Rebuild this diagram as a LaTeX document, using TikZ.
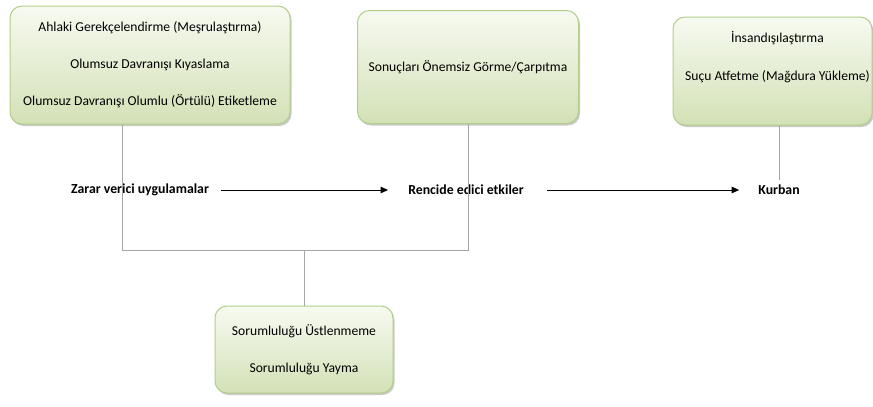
\documentclass[tikz,border=0pt]{standalone}
\usepackage{fontspec}
\setmainfont{Carlito}
\usetikzlibrary{positioning}
\usetikzlibrary{shadows}
\usetikzlibrary{arrows.meta}
\definecolor{boxtop}{HTML}{F7FAF1}
\definecolor{boxbottom}{HTML}{D3E1B6}
\definecolor{boxedge}{HTML}{B3CE88}
\definecolor{linegray}{HTML}{A6A6A6}
\tikzset{
	greenbox/.style={draw=boxedge, line width=1pt, rounded corners=12pt, top color=boxtop, bottom color=boxbottom, align=center, font=\fontsize{13.6}{37}\selectfont, drop shadow={shadow xshift=1.5pt, shadow yshift=-2pt, opacity=.35, fill=black!60}},
	boxtext/.style={align=center, font=\fontsize{13.6}{38}\selectfont},
	flowlabel/.style={font=\bfseries\fontsize{13.8}{16}\selectfont, inner sep=2pt},
	connector/.style={draw=linegray, line width=1pt},
	flowarrow/.style={draw=black, line width=0.9pt, -{Triangle[length=7.5pt, width=6.5pt]}}
}
\begin{document}
\begin{tikzpicture}[x=1pt, y=-1pt]
	\useasboundingbox (0,0) rectangle (873,407);
	% boxes
	\node (ahlaki) [greenbox, minimum width=280pt, minimum height=118pt] at (150,65) {Ahlaki Gerekçelendirme (Meşrulaştırma)\\Olumsuz Davranışı Kıyaslama\\Olumsuz Davranışı Olumlu (Örtülü) Etiketleme};
	\node (sonuc) [greenbox, minimum width=221pt, minimum height=113pt] at (468,67) {Sonuçları Önemsiz Görme/Çarpıtma};
	\node (insan) [greenbox, minimum width=199pt, minimum height=108pt] at (772.5,71) {};
	\node (insantext) [boxtext] at ([xshift=5pt, yshift=14pt]insan.center) {İnsandışılaştırma\\Suçu Atfetme (Mağdura Yükleme)};
	\node (sorum) [greenbox, minimum width=178pt, minimum height=87pt] at (304,349.5) {Sorumluluğu Üstlenmeme\\Sorumluluğu Yayma};
	% middle row
	\node (zarar) [flowlabel] at (140,190) {Zarar verici uygulamalar};
	\node (rencide) [flowlabel] at (466,190) {Rencide edici etkiler};
	\node (kurban) [flowlabel] at (779,190) {Kurban};
	\coordinate (leftfoot) at (122,250);
	\coordinate (rightfoot) at (468,250);
	\coordinate (midfoot) at (304,250);
	\draw [connector] (ahlaki.south -| leftfoot) -- (leftfoot) -- (rightfoot) -- (sonuc.south);
	\draw [connector] (midfoot) -- (sorum.north);
	\draw [connector] (insan.south -| kurban) -- ([yshift=3pt]kurban.north);
	\draw [flowarrow] ([xshift=10pt]zarar.east) -- ([xshift=-18pt]rencide.west);
	\draw [flowarrow] ([xshift=21pt]rencide.east) -- ([xshift=-17pt]kurban.west);
\end{tikzpicture}
\end{document}
